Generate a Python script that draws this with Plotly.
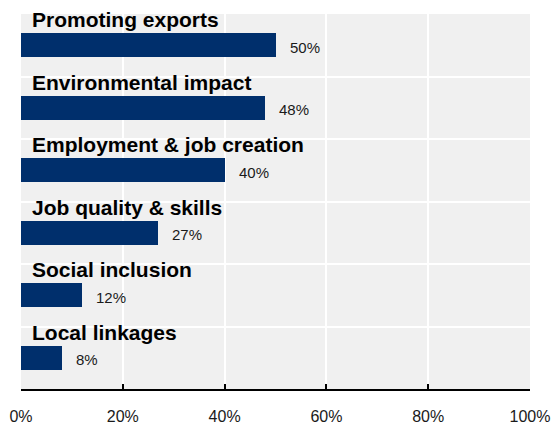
import plotly.graph_objects as go

# Share of respondents citing each objective
categories = [
    "Promoting exports",
    "Environmental impact",
    "Employment & job creation",
    "Job quality & skills",
    "Social inclusion",
    "Local linkages",
]
values = [50, 48, 40, 27, 12, 8]
value_labels = ["50%", "48%", "40%", "27%", "12%", "8%"]
x_ticks = [0, 20, 40, 60, 80, 100]
x_tick_labels = ["0%", "20%", "40%", "60%", "80%", "100%"]

positions = list(range(len(categories)))
BAR_COLOR = "#002F6C"
FONT = "Liberation Sans, Arial, sans-serif"

fig = go.Figure(
    go.Bar(
        x=values,
        y=positions,
        orientation="h",
        width=0.38,
        marker=dict(color=BAR_COLOR, line=dict(width=0)),
        hoverinfo="skip",
    )
)

annotations = []
for pos, cat, val, lab in zip(positions, categories, values, value_labels):
    # category title sitting at the top of its band
    annotations.append(dict(
        x=0, y=pos - 0.41, xref="x", yref="y",
        text=f"<b>{cat}</b>", showarrow=False,
        xanchor="left", yanchor="middle", xshift=9,
        font=dict(family=FONT, size=21, color="#000000"),
    ))
    # value at the end of the bar
    annotations.append(dict(
        x=val, y=pos + 0.03, xref="x", yref="y",
        text=lab, showarrow=False,
        xanchor="left", yanchor="middle", xshift=12,
        font=dict(family=FONT, size=15, color="#1a1a1a"),
    ))

fig.update_layout(
    width=552, height=426,
    margin=dict(l=21, r=22, t=14, b=37, autoexpand=False),
    paper_bgcolor="#ffffff",
    plot_bgcolor="#f0f0f0",
    showlegend=False,
    bargap=0,
    annotations=annotations,
    xaxis=dict(
        range=[0, 100],
        tickvals=x_ticks, ticktext=x_tick_labels,
        showgrid=True, gridcolor="#ffffff", gridwidth=2,
        zeroline=False,
        showline=True, linecolor="#000000", linewidth=1.5,
        ticks="inside", ticklen=5, tickcolor="#000000", tickwidth=1.5,
        ticklabelstandoff=12,
        tickfont=dict(family=FONT, size=16, color="#1a1a1a"),
        automargin=False,
        fixedrange=True,
    ),
    yaxis=dict(
        range=[len(categories) - 0.5, -0.5],
        tickvals=[p + 0.5 for p in positions[:-1]],
        showticklabels=False,
        showgrid=True, gridcolor="#ffffff", gridwidth=2,
        zeroline=False, showline=False, ticks="",
        automargin=False,
        fixedrange=True,
    ),
)

fig.write_html("out.html")
